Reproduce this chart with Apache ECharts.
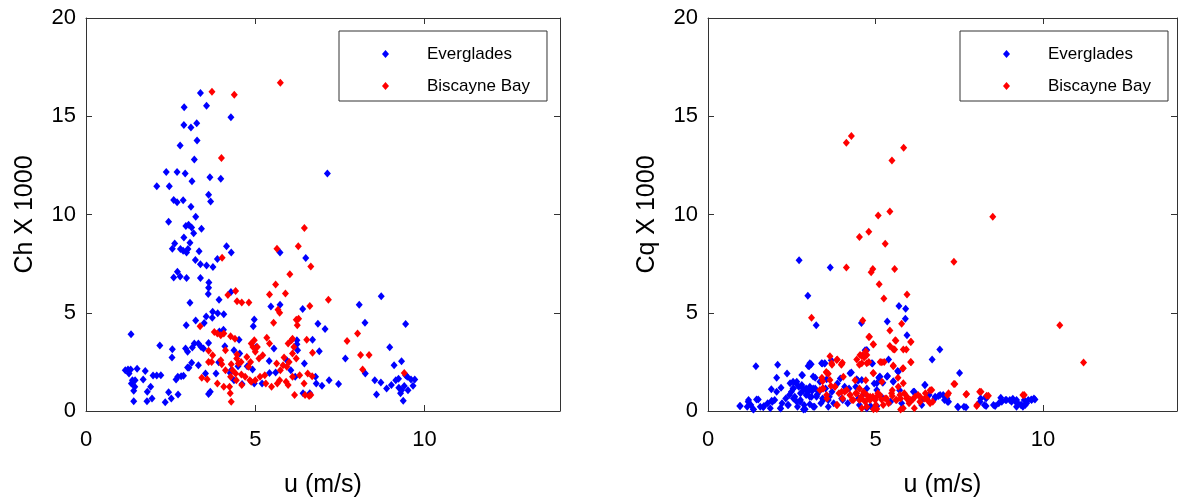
<!DOCTYPE html>
<html>
<head>
<meta charset="utf-8">
<script src="https://cdn.jsdelivr.net/npm/echarts@6/dist/echarts.min.js"></script>
<style>
html,body{margin:0;padding:0;background:#fff;}
#chart{width:1181px;height:500px;}
</style>
</head>
<body>
<div id="chart"></div>
<script>
// ---- data: [u (m/s), value x 1000] ----
const seriesNames = ['Everglades', 'Biscayne Bay'];
const xTicks = [0, 5, 10];
const yTicks = [0, 5, 10, 15, 20];

const evergladesCh = [
[3.38,16.18],[2.90,15.46],[3.56,15.54],[4.28,14.95],[2.89,14.56],[3.10,14.43],[3.27,14.65],[3.28,13.77],
[2.78,13.51],[3.20,12.80],[7.13,12.09],[2.37,12.16],[2.69,12.16],[2.93,12.09],[3.66,11.89],[3.98,11.82],
[3.13,11.69],[2.09,11.44],[2.46,11.44],[3.62,11.01],[3.68,10.66],[2.59,10.74],[2.69,10.62],[2.87,10.73],
[3.10,10.39],[3.24,9.88],[2.44,9.63],[3.03,9.48],[2.95,9.41],[3.12,9.34],[3.41,9.27],[3.18,9.04],
[2.89,8.83],[3.07,8.56],[2.62,8.53],[2.55,8.26],[2.79,8.24],[3.01,8.24],[2.87,8.16],[2.97,8.06],
[4.15,8.38],[4.29,8.06],[3.34,8.13],[5.73,8.06],[3.23,7.69],[3.38,7.47],[3.56,7.40],[3.75,7.33],
[3.88,7.74],[6.49,7.79],[2.70,7.09],[2.59,6.79],[2.78,6.84],[2.97,6.77],[3.38,6.77],[3.63,6.54],
[3.62,6.27],[3.61,5.96],[3.93,5.66],[3.07,5.51],[4.28,6.05],[5.73,5.41],[5.46,5.32],[8.07,5.41],
[8.72,5.84],[6.40,5.19],[3.74,5.05],[3.89,4.97],[4.07,4.93],[3.55,4.81],[3.73,4.75],[3.24,4.61],
[4.97,4.66],[3.49,4.48],[2.96,4.36],[6.85,4.44],[8.24,4.49],[9.44,4.43],[4.94,4.31],[7.06,4.17],
[3.94,4.05],[1.33,3.90],[4.06,4.14],[4.52,3.63],[6.69,3.63],[2.18,3.33],[3.20,3.43],[3.32,3.43],
[3.62,3.46],[2.55,3.14],[2.94,3.18],[3.00,3.01],[3.14,3.23],[3.40,3.26],[3.47,3.18],[4.10,3.29],
[4.37,3.09],[4.54,2.92],[5.03,3.26],[5.55,3.18],[6.23,3.60],[6.23,3.40],[6.25,3.09],[6.89,3.04],
[8.97,3.24],[2.54,2.72],[3.12,2.45],[3.00,2.21],[7.66,2.67],[9.32,2.53],[9.10,2.33],[4.49,2.28],
[5.41,2.55],[5.93,2.58],[6.45,2.42],[3.92,2.48],[1.16,2.08],[1.24,2.11],[1.32,2.11],[1.51,2.15],
[1.75,2.03],[1.27,1.91],[1.37,1.57],[1.45,1.57],[1.34,1.40],[1.44,1.23],[1.41,1.03],[1.69,1.60],
[1.98,1.81],[2.09,1.81],[2.21,1.82],[1.91,1.23],[1.81,0.98],[1.95,0.64],[1.80,0.49],[1.41,0.49],
[2.34,0.44],[2.44,0.96],[2.52,0.64],[2.72,0.84],[2.66,1.60],[2.71,1.74],[2.81,1.77],[2.88,1.79],
[3.04,2.20],[3.32,2.33],[3.53,1.91],[3.62,0.86],[3.67,0.98],[3.84,1.91],[4.26,1.94],[4.37,1.57],
[4.29,2.08],[4.61,1.37],[4.76,2.28],[4.97,1.40],[4.92,2.11],[5.20,1.40],[5.42,1.94],[5.60,1.96],
[6.05,2.08],[6.18,1.74],[6.41,0.90],[6.61,0.90],[6.78,1.74],[6.80,1.40],[6.97,1.28],[7.18,1.57],
[7.46,1.37],[8.25,1.91],[8.53,1.57],[8.58,0.84],[8.71,1.45],[8.88,1.15],[9.02,1.32],[9.15,1.57],
[9.23,1.64],[9.24,1.18],[9.29,0.90],[9.32,1.06],[9.37,0.52],[9.40,1.27],[9.44,1.82],[9.51,1.06],
[9.60,1.60],[9.66,1.28],[9.71,1.60],[9.49,1.74]
];

const biscayneCh = [
[5.74,16.71],[3.72,16.25],[4.38,16.10],[4.00,12.87],[6.45,9.31],[5.64,8.26],[6.27,8.38],[4.02,7.80],
[6.64,7.35],[6.02,6.96],[5.60,6.44],[5.89,5.98],[5.42,5.93],[4.42,6.11],[4.19,5.90],[7.16,5.66],
[4.46,5.59],[4.60,5.52],[4.81,5.52],[5.67,5.15],[5.72,5.00],[6.61,5.34],[5.54,4.49],[6.21,4.65],
[6.28,4.70],[6.24,4.36],[3.37,4.31],[8.02,3.95],[7.71,3.56],[3.79,4.02],[3.88,3.94],[3.98,3.85],
[4.07,3.94],[4.27,3.80],[4.97,3.60],[4.88,3.43],[5.00,3.01],[5.06,3.26],[5.34,3.73],[5.42,3.43],
[5.97,3.43],[6.07,3.60],[6.10,3.68],[6.14,3.26],[6.52,3.63],[6.69,2.96],[8.11,2.85],[8.36,2.85],
[8.17,2.11],[9.40,1.94],[3.62,3.06],[3.74,2.84],[4.12,3.09],[3.62,2.50],[3.71,2.50],[3.98,2.58],
[4.01,2.38],[4.29,2.38],[4.45,2.67],[4.50,2.42],[4.58,2.50],[4.75,2.75],[5.11,2.67],[5.22,2.84],
[4.86,2.50],[4.80,2.25],[4.33,2.08],[4.42,1.91],[4.59,1.86],[4.27,1.74],[4.44,1.57],[4.70,1.74],
[4.84,1.57],[5.00,1.57],[5.14,1.74],[5.31,1.40],[5.63,2.42],[5.74,2.08],[5.82,2.33],[5.85,2.72],
[5.93,2.25],[6.00,2.50],[5.72,1.57],[5.97,1.32],[6.10,1.74],[6.31,1.82],[6.44,1.40],[6.55,1.91],
[6.68,1.77],[6.59,0.76],[6.64,0.81],[6.47,0.81],[6.16,0.81],[4.26,0.90],[4.29,0.47],[3.42,1.69],
[3.58,1.62],[3.88,1.40],[4.07,1.23],[4.24,1.23],[4.60,1.32],[4.88,1.49],[5.28,1.82],[5.48,1.23],
[5.65,1.40],[5.91,1.49],[4.93,3.26],[4.40,3.68],[4.46,2.87],[4.12,2.08],[6.10,2.92],[6.21,2.67]
];

const evergladesCq = [
[2.72,7.67],[3.65,7.30],[2.98,5.86],[5.70,5.34],[5.90,5.20],[3.23,4.36],[5.35,4.56],[4.58,4.48],
[5.89,4.70],[5.94,3.85],[4.69,3.09],[6.92,3.13],[5.39,2.62],[6.69,2.62],[3.68,2.58],[3.41,2.42],
[3.48,2.42],[3.02,2.28],[3.08,2.38],[1.43,2.28],[2.08,2.36],[4.91,2.42],[4.28,1.96],[5.66,2.03],
[7.51,1.94],[2.36,1.91],[2.82,1.82],[2.05,1.69],[3.20,1.69],[3.54,1.62],[4.48,1.54],[5.34,1.74],
[5.53,1.52],[5.10,1.69],[5.22,1.44],[6.47,1.32],[1.89,1.11],[2.18,1.18],[2.54,1.49],[2.63,1.40],
[2.71,1.23],[2.80,1.32],[2.85,1.06],[2.93,1.15],[3.04,1.23],[3.11,1.03],[3.20,1.15],[3.31,0.98],
[2.49,0.98],[2.43,0.81],[2.59,0.73],[2.76,0.90],[2.93,0.81],[3.09,0.73],[3.26,0.84],[3.42,0.64],
[3.59,0.56],[3.70,0.98],[3.75,0.39],[2.87,0.30],[3.04,0.34],[3.18,0.22],[2.85,0.08],[2.38,0.30],
[1.99,0.56],[1.92,0.47],[1.78,0.39],[1.67,0.25],[1.50,0.59],[1.28,0.30],[1.21,0.56],[0.95,0.25],
[1.17,0.22],[1.36,0.08],[1.56,0.22],[1.86,0.14],[2.16,0.14],[3.86,1.40],[3.95,1.66],[4.08,1.23],
[4.21,1.15],[4.41,1.23],[4.74,1.15],[4.96,1.40],[4.02,0.56],[4.17,0.39],[4.52,0.30],[4.85,0.25],
[5.01,0.19],[5.18,0.73],[5.45,0.47],[5.72,1.06],[5.78,0.39],[6.16,0.98],[6.38,0.30],[6.60,0.81],
[6.77,0.64],[6.88,0.76],[7.02,0.81],[7.06,0.56],[7.15,0.47],[7.45,0.22],[7.64,0.22],[8.14,0.64],
[8.25,0.30],[8.30,0.73],[8.52,0.30],[8.68,0.39],[8.74,0.68],[8.88,0.56],[9.01,0.56],[9.10,0.62],
[9.18,0.47],[9.25,0.39],[9.34,0.30],[9.40,0.22],[9.47,0.30],[9.56,0.56],[9.65,0.59],[9.73,0.64],
[9.44,0.56],[9.21,0.22],[2.54,1.15],[2.76,0.56],[3.37,0.39],[3.51,1.15],[3.62,0.73],[2.32,0.64],
[2.21,0.39],[2.65,0.47],[4.66,0.90],
[2.05,0.98],[1.90,0.52],[1.45,0.59],[1.20,0.47],[0.96,0.25],[1.65,0.19],[1.35,0.09],[2.17,0.13],
[2.40,0.31],[2.55,1.15],[2.45,1.41],[2.65,1.49],[2.80,1.83],[2.99,2.29],[3.04,2.43],[3.39,2.43],
[3.49,2.43],[3.14,1.75],[3.34,1.49],[2.84,1.15],[2.99,0.98],[3.14,1.15],[3.04,0.73],[3.24,0.73],
[3.44,0.56],[3.59,0.22],[2.75,0.47],[2.55,0.64],[2.67,0.22],[3.14,0.22],[2.90,0.09],[4.24,1.92],
[4.44,1.61],[5.04,1.41],[3.99,0.64],[4.49,0.64],[4.74,0.22],[5.04,1.07],
[5.68,2.00],[5.36,1.78],[5.53,1.49],[5.11,1.71],[6.48,1.32],[6.13,0.98],[6.78,0.73],[6.93,0.81],
[7.13,0.64],[7.18,0.47],[6.38,0.56],[7.47,0.19],[7.70,0.19],[8.12,0.47],[8.30,0.64],[8.30,0.25],
[8.57,0.25],[8.77,0.47],[8.91,0.56],[9.06,0.47],[9.21,0.56],[9.36,0.31],[9.51,0.39],[9.66,0.56],
[9.76,0.59],[4.74,3.10],[4.89,2.43],[5.13,1.75],[4.59,1.58],[5.04,0.25],[4.74,0.14]
];

const biscayneCq = [
[4.28,13.99],[4.13,13.65],[5.84,13.40],[5.49,12.75],[5.43,10.15],[5.08,9.95],[8.50,9.88],[4.80,9.12],
[4.52,8.85],[5.29,8.51],[4.13,7.30],[7.34,7.60],[4.92,7.23],[4.87,7.06],[5.57,7.23],[5.11,6.45],
[5.94,5.93],[5.25,5.73],[3.09,4.75],[4.62,4.61],[5.78,4.44],[10.50,4.36],[5.43,4.10],[4.80,3.77],
[5.59,3.60],[6.05,3.51],[4.93,3.40],[5.43,3.31],[5.57,3.13],[5.83,3.13],[5.92,3.13],[4.71,3.04],
[3.64,2.79],[3.86,2.62],[4.62,2.84],[4.66,2.72],[4.44,2.62],[4.80,2.50],[5.14,2.50],[5.26,2.50],
[6.05,2.50],[11.21,2.47],[3.70,2.36],[3.98,2.36],[4.01,2.45],[4.52,2.36],[5.53,2.28],[5.81,2.16],
[3.53,1.99],[3.59,1.89],[4.93,1.94],[4.04,1.74],[4.39,1.57],[5.67,1.69],[3.42,1.52],[3.67,1.27],
[3.79,1.23],[3.42,1.15],[7.34,1.37],[8.11,0.98],[3.91,0.90],[4.08,0.98],[4.24,0.81],[4.41,0.90],
[4.57,0.73],[4.74,0.81],[4.92,0.73],[5.07,0.90],[5.29,0.64],[5.50,0.76],[5.68,1.23],[5.75,0.64],
[5.86,0.90],[5.94,0.73],[6.11,0.59],[6.27,0.81],[6.47,0.64],[6.63,1.06],[6.71,0.47],[7.15,0.81],
[7.70,0.84],[8.03,0.30],[8.32,0.78],[9.40,0.81],[3.86,0.30],[4.52,0.56],[4.74,0.22],[5.01,0.30],
[5.39,0.39],[5.75,0.08],[6.16,0.14],[3.55,0.64],[4.30,0.56],[5.18,0.59],[5.61,0.56],[6.00,0.39],
[6.33,0.47],[6.55,0.56],[4.02,0.64],[4.52,1.15],[4.71,1.57],[4.79,0.64],[5.50,1.06],[6.05,0.56],
[6.33,0.73],[6.49,0.90],[3.40,1.69],
[4.94,3.39],[3.84,2.60],[3.99,2.39],[3.69,2.43],[4.59,2.80],[4.74,2.43],[4.94,1.92],[3.54,1.95],
[3.64,1.58],[3.44,1.15],[3.79,1.24],[3.99,0.98],[4.14,1.07],[4.24,0.81],[4.44,0.90],[4.34,0.56],
[4.59,0.64],[4.84,0.56],[5.04,0.73],[3.84,0.31],[4.59,0.14],[5.04,0.10],[3.34,1.07],[3.54,0.81],
[4.82,3.78],[5.61,3.58],[6.06,3.53],[5.53,3.14],[4.54,2.85],[4.74,2.85],[4.59,2.43],[5.19,2.48],
[6.06,2.48],[5.53,2.31],[5.83,2.17],[5.19,1.49],[5.83,1.41],[7.37,1.37],[7.72,0.86],[8.15,0.98],
[8.37,0.78],[9.44,0.81],[8.02,0.25],[6.68,1.07],[7.18,0.90],
[4.64,0.98],[4.84,0.73],[4.99,0.56],[4.69,0.47],[5.13,0.81],[5.33,0.64],[5.48,0.90],[5.63,0.56],
[5.73,0.81],[5.93,0.64],[6.03,0.47],[6.18,0.73],[6.33,0.47],[6.53,0.64],[6.63,0.39],[5.83,0.14],
[5.23,0.31],[4.94,0.09]
];

const yTitles = ['Ch X 1000', 'Cq X 1000'];
const xTitle = 'u (m/s)';
const colors = ['#0000ff', '#ff0000'];

// ---- chart ----
const FONT = '"Liberation Sans", Arial, Helvetica, sans-serif';
const axisColor = '#333333';
const grids = [
  {left: 86, top: 18, width: 474, height: 393, outerBoundsMode: 'none', containLabel: false},
  {left: 708, top: 18, width: 469, height: 393, outerBoundsMode: 'none', containLabel: false}
];
const xAxes = [], yAxes = [];
grids.forEach((g, i) => {
  const base = {
    gridIndex: i, type: 'value', min: 0, interval: 5,
    axisLine: {show: true, onZero: false, lineStyle: {color: axisColor, width: 1}},
    axisTick: {show: true, inside: true, length: 6, lineStyle: {color: axisColor}},
    splitLine: {show: false}
  };
  xAxes.push(Object.assign({}, base, {
    max: 14, position: 'bottom',
    name: xTitle, nameLocation: 'middle', nameGap: 62,
    nameTextStyle: {fontFamily: FONT, fontSize: 25, color: '#000'},
    axisLabel: {fontFamily: FONT, fontSize: 22, color: '#000', margin: 18,
      formatter: v => (xTicks.indexOf(v) >= 0 ? String(v) : '')}
  }));
  xAxes.push(Object.assign({}, base, {
    max: 14, position: 'top', axisLabel: {show: false}
  }));
  yAxes.push(Object.assign({}, base, {
    max: 20, position: 'left',
    name: yTitles[i], nameLocation: 'middle', nameGap: 48,
    nameTextStyle: {fontFamily: FONT, fontSize: 25, color: '#000'},
    axisLabel: {fontFamily: FONT, fontSize: 22, color: '#000', margin: 10,
      formatter: v => (yTicks.indexOf(v) >= 0 ? String(v) : '')}
  }));
  yAxes.push(Object.assign({}, base, {
    max: 20, position: 'right', axisLabel: {show: false}
  }));
});

const dataSets = [[evergladesCh, biscayneCh], [evergladesCq, biscayneCq]];
const series = [];
dataSets.forEach((pair, gi) => {
  pair.forEach((d, si) => {
    series.push({
      name: seriesNames[si], type: 'scatter',
      xAxisIndex: gi * 2, yAxisIndex: gi * 2,
      data: d, symbol: 'diamond', symbolSize: [7, 8],
      itemStyle: {color: colors[si], opacity: 1},
      emphasis: {disabled: true},
      animation: false
    });
  });
});

const legendLefts = [339, 960];
const legends = legendLefts.map(l => ({
  orient: 'vertical', left: l, top: 31,
  data: seriesNames.map(n => ({name: n, icon: 'diamond'})),
  itemWidth: 7, itemHeight: 8, itemGap: 12,
  padding: [13, 17, 5, 43],
  borderColor: axisColor, borderWidth: 1,
  selectedMode: false,
  itemStyle: {opacity: 1},
  textStyle: {fontFamily: FONT, fontSize: 17, color: '#000', lineHeight: 20, padding: [0, 0, 0, 33]}
}));

const chart = echarts.init(document.getElementById('chart'), null, {renderer: 'canvas'});
chart.setOption({
  animation: false,
  backgroundColor: '#ffffff',
  color: colors,
  grid: grids,
  xAxis: xAxes,
  yAxis: yAxes,
  legend: legends,
  series: series
});
</script>
</body>
</html>
